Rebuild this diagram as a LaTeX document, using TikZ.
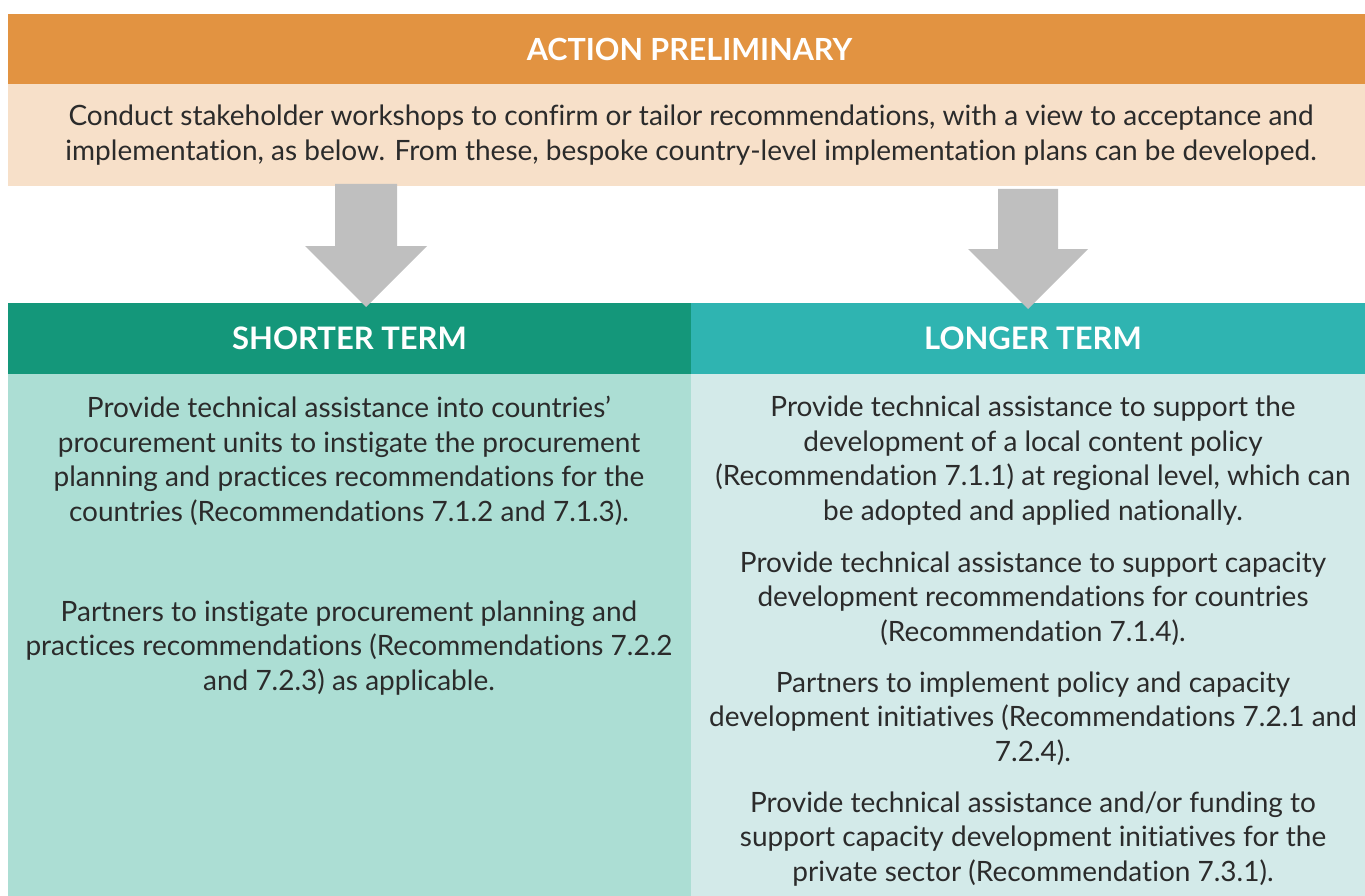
\documentclass[tikz,border=0pt]{standalone}
\usepackage{fontspec}
\setmainfont{Lato}[Ligatures=NoCommon]
\definecolor{orangeH}{HTML}{E29341}
\definecolor{peach}{HTML}{F7E0C9}
\definecolor{greenH}{HTML}{14977A}
\definecolor{tealH}{HTML}{2FB4B1}
\definecolor{greenB}{HTML}{ACDED4}
\definecolor{tealB}{HTML}{D3EAE9}
\definecolor{arrowgray}{HTML}{BFBFBF}
\definecolor{txt}{HTML}{2B2B2B}
\tikzset{
  box/.style={anchor=north west, inner sep=0pt, outer sep=0pt},
  headtxt/.style={text=white, font=\fontsize{31}{36}\selectfont\bfseries},
  bodytxt/.style={text=txt, align=center, inner sep=0pt, font=\fontsize{28}{34.5}\selectfont},
  bigarrow/.style={fill=arrowgray, draw=none}
}
\begin{document}
\begin{tikzpicture}[x=1pt,y=-1pt]
\useasboundingbox (0,0) rectangle (1365,896);
% top
\node[box, fill=orangeH, minimum width=1357pt, minimum height=70pt] (act) at (8,14) {};
\node[headtxt, font=\fontsize{30.5}{36}\selectfont\bfseries] (actT) at (689.5,49) {ACTION PRELIMINARY};
\node[box, fill=peach, minimum width=1357pt, minimum height=102pt] (conduct) at (8,84) {};
\node[bodytxt] (conductT) at (691,135) {Conduct stakeholder workshops to confirm or tailor recommendations, with a view to acceptance and\\implementation, as below. From these, bespoke country-level implementation plans can be developed.};
% columns
\node[box, fill=greenH, minimum width=683pt, minimum height=71pt] (short) at (8,303) {};
\node[headtxt] (shortT) at (short.center) {SHORTER TERM};
\node[box, fill=tealH, minimum width=674pt, minimum height=71pt] (long) at (691,303) {};
\node[headtxt] (longT) at (1033,338.5) {LONGER TERM};
\node[box, fill=greenB, minimum width=683pt, minimum height=522pt] (shortB) at (8,374) {};
\node[box, fill=tealB, minimum width=674pt, minimum height=522pt] (longB) at (691,374) {};
% arrows
\fill[bigarrow] (335,184) -- (397,184) -- (397,246) -- (427,246) -- (366,307) -- (305,246) -- (335,246) -- cycle;
\fill[bigarrow] (998,189) -- (1058,189) -- (1058,249) -- (1088,249) -- (1028,309) -- (968,249) -- (998,249) -- cycle;
% left texts
\node[bodytxt] (s1) at (349,461) {Provide technical assistance into countries’\\procurement units to instigate the procurement\\planning and practices recommendations for the\\countries (Recommendations 7.1.2 and 7.1.3).};
\node[bodytxt] (s2) at (349,648) {Partners to instigate procurement planning and\\practices recommendations (Recommendations 7.2.2\\and 7.2.3) as applicable.};
% right texts
\node[bodytxt] (l1) at (1033,460.5) {Provide technical assistance to support the\\development of a local content policy\\(Recommendation 7.1.1) at regional level, which can\\be adopted and applied nationally.};
\node[bodytxt] (l2) at (1033,598.5) {Provide technical assistance to support capacity\\development recommendations for countries\\(Recommendation 7.1.4).};
\node[bodytxt] (l3) at (1033,718.5) {Partners to implement policy and capacity\\development initiatives (Recommendations 7.2.1 and\\7.2.4).};
\node[bodytxt] (l4) at (1033,839) {Provide technical assistance and/or funding to\\support capacity development initiatives for the\\private sector (Recommendation 7.3.1).};
\end{tikzpicture}
\end{document}
